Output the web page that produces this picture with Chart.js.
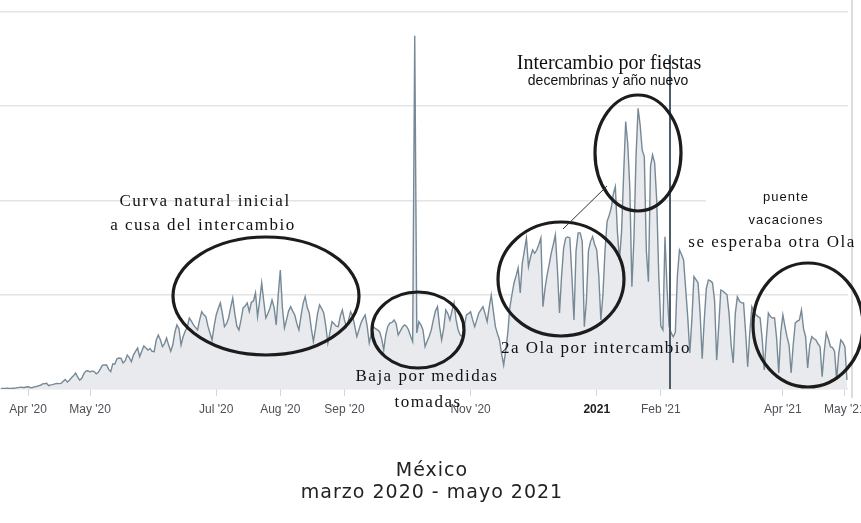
<!DOCTYPE html>
<html>
<head>
<meta charset="utf-8">
<script src="https://cdn.jsdelivr.net/npm/chart.js@4.4.1/dist/chart.umd.min.js"></script>
<style>
  html, body { margin: 0; padding: 0; background: #fff; }
</style>
</head>
<body>
<canvas id="myChart" width="861" height="523"></canvas>
<script>
// daily new cases, Mexico. day 0 = 1 Apr 2020, series starts 19 Mar 2020
const startDay = -13;

const casesMar20 = [46, 39, 48, 65, 51, 38, 65, 70, 110, 131, 145, 101, 163];
const casesApr20 = [178, 121, 99, 164, 202, 253, 296, 396, 425, 457, 260, 332, 345, 413, 445, 429, 448, 622, 764, 550,
  700, 900, 1043, 1270, 970, 700, 852, 1223, 1425, 1450];
const casesMay20 = [1350, 1439, 1383, 1200, 1329, 1609, 1900, 1906, 1913, 1562, 1380, 1997, 1992, 2409, 2460, 2437,
  2070, 2248, 2700, 2500, 2170, 2713, 3000, 3260, 2570, 3000, 3420, 3260, 3100, 3227, 3000];
const casesJun20 = [2970, 3891, 4300, 3912, 3370, 3600, 4060, 3494, 2999, 3500, 4500, 5100, 4790, 3500, 4160, 4599,
  4930, 5650, 5400, 5100, 4900, 4700, 5500, 6150, 5900, 5760, 5000, 4460, 3900, 5000];
const casesJul20 = [5890, 6400, 6850, 6000, 4960, 5200, 5650, 6500, 7240, 6000, 5000, 4700, 5500, 6450, 6600, 6850,
  6150, 6900, 7000, 7640, 5760, 7000, 8440, 7000, 5650, 6000, 6450, 7080, 6500, 5100, 7500];
const casesAug20 = [9470, 6500, 4860, 5500, 6200, 6550, 6200, 5890, 5200, 4700, 5800, 6800, 7350, 6500, 6050, 4800,
  3770, 4800, 6000, 6690, 6400, 6050, 5000, 3660, 4500, 5360, 5200, 5000, 4960, 5800, 6290];
const casesSep20 = [5500, 4960, 5500, 6150, 5800, 5000, 4160, 4700, 5250, 5600, 5890, 5000, 3660, 4400, 4960, 4800,
  4700, 4560, 4000, 3100, 4300, 5000, 5250, 5300, 5490, 5200, 4300, 4600, 4900, 5100];
const casesOct20 = [5000, 4700, 4200, 3770, 28115, 4460, 5360, 5100, 4700, 3370, 3800, 4200, 4700, 5500, 6200, 6550,
  5000, 3900, 4800, 6290, 6000, 5490, 6200, 6850, 5500, 4700, 4300, 4160, 5000, 5890, 6000];
const casesNov20 = [6150, 5500, 4960, 5500, 6050, 6300, 6550, 6000, 5360, 6500, 7480, 6200, 4960, 4400, 3900, 2800,
  1910, 3100, 4460, 6500, 7500, 8440, 9000, 9630, 7640, 10000, 11000, 12020, 9740, 10500];
const casesDec20 = [11060, 10800, 11060, 11500, 12020, 6550, 8000, 9070, 9900, 10820, 11500, 12260, 9500, 6050, 9000,
  11220, 12020, 12100, 12020, 9000, 5490, 11000, 12420, 12420, 11730, 4960, 7000, 11000, 11730, 12120, 11500];
const casesJan21 = [11060, 9000, 5490, 7500, 11000, 13320, 13800, 14400, 15500, 16100, 12500, 10270, 12500, 17000,
  21280, 19500, 16000, 8140, 12000, 18490, 22340, 21000, 19000, 18490, 11000, 8540, 17700, 18630, 18000, 15040, 9000];
const casesFeb21 = [5000, 4700, 12120, 8000, 5000, 4460, 4160, 4500, 9000, 11060, 10700, 10270, 8000, 5760, 2870,
  5500, 8940, 8700, 8440, 6000, 2400, 5500, 8000, 8680, 8600, 8440, 7000, 2300];
const casesMar21 = [5000, 7880, 7800, 7640, 7500, 6000, 3500, 2070, 6000, 7350, 7000, 6850, 6850, 4500, 1770, 4500,
  6550, 6200, 5900, 5760, 5650, 4000, 1510, 4000, 6050, 5760, 5650, 5650, 4000, 1270, 4500];
const casesApr21 = [5890, 5000, 4160, 3500, 1270, 3500, 5250, 5400, 5490, 6290, 4800, 4160, 1670, 3500, 4160, 4000,
  3900, 3600, 3370, 980, 3000, 4460, 4000, 3370, 3300, 3000, 720, 2800, 3900, 3700];
const casesMay21 = [3370, 720];

const tickDays = [0, 30, 91, 122, 153, 214, 275, 306, 365, 395];
const tickLabels = ["Apr '20", "May '20", "Jul '20", "Aug '20", "Sep '20", "Nov '20", "2021", "Feb '21", "Apr '21", "May '21"];
const yTicks = [0, 7500, 15000, 22500, 30000];

const allCases = [].concat(casesMar20, casesApr20, casesMay20, casesJun20, casesJul20, casesAug20, casesSep20,
  casesOct20, casesNov20, casesDec20, casesJan21, casesFeb21, casesMar21, casesApr21, casesMay21);
const points = allCases.map((v, i) => ({ x: startDay + i, y: v }));

// hand drawn notes on top of the chart
const notes = {
  id: 'notes',
  beforeDraw(chart) {
    // the title in the picture is letter spaced and sits a bit right of the plot centre
    const t = chart.titleBlock;
    if (t && !t._spaced) {
      const draw = t.draw;
      t.draw = function () {
        chart.ctx.save();
        chart.ctx.letterSpacing = '1px';
        chart.ctx.translate(8, 0);
        draw.apply(this, arguments);
        chart.ctx.restore();
      };
      t._spaced = true;
    }
  },
  afterDraw(chart) {
    const c = chart.ctx;
    c.save();

    // cursor line left by the original chart
    c.strokeStyle = '#4b5d6b';
    c.lineWidth = 2;
    c.beginPath();
    c.moveTo(670, 55);
    c.lineTo(670, 389);
    c.stroke();

    // right frame line
    c.strokeStyle = '#dcdcdc';
    c.lineWidth = 2;
    c.beginPath();
    c.moveTo(852, 0);
    c.lineTo(852, 398);
    c.stroke();

    // white patch behind "puente vacaciones"
    c.fillStyle = '#fff';
    c.fillRect(706, 182, 142, 50);

    // circles
    c.strokeStyle = '#1c1c1c';
    c.lineWidth = 3.2;
    [[266, 296, 93, 59], [418, 330, 46, 38], [561, 279, 63, 57], [638, 153, 43, 58], [808, 325, 55, 62]]
      .forEach(e => {
        c.beginPath();
        c.ellipse(e[0], e[1], e[2], e[3], 0, 0, Math.PI * 2);
        c.stroke();
      });

    // connector between the two wave circles
    c.strokeStyle = '#333';
    c.lineWidth = 1;
    c.beginPath();
    c.moveTo(563, 229);
    c.lineTo(607, 186);
    c.stroke();

    c.fillStyle = '#111';
    c.textAlign = 'center';
    c.textBaseline = 'middle';

    c.font = '17px "Liberation Serif"';
    c.letterSpacing = '1.5px';
    c.fillText('Curva natural inicial', 205, 202);
    c.fillText('a cusa del intercambio', 203, 226);
    c.fillText('Baja por medidas', 427, 377);
    c.fillText('tomadas', 428, 403);
    c.fillText('2a Ola por intercambio', 596, 349);
    c.fillText('se esperaba otra Ola', 772, 243);

    c.letterSpacing = '0px';
    c.font = '20px "Liberation Serif"';
    c.fillText('Intercambio por fiestas', 609, 64, 196);
    c.font = '14px "Liberation Sans"';
    c.fillText('decembrinas y año nuevo', 608, 81, 186);

    c.letterSpacing = '1px';
    c.font = '13px "Liberation Sans"';
    c.fillText('puente', 786, 197);
    c.fillText('vacaciones', 786, 220);

    c.restore();
  }
};

const ctx = document.getElementById('myChart');

new Chart(ctx, {
  type: 'line',
  data: {
    datasets: [{
      data: points,
      borderColor: '#768997',
      borderWidth: 1.4,
      backgroundColor: '#e8eaed',
      fill: 'origin',
      pointRadius: 0,
      tension: 0
    }]
  },
  options: {
    responsive: false,
    animation: false,
    devicePixelRatio: 1,
    layout: { padding: { left: 0, right: 13, top: 12, bottom: 0 }, autoPadding: false },
    scales: {
      x: {
        type: 'linear',
        min: -13.54,
        max: 396.5,
        afterBuildTicks: s => { s.ticks = tickDays.map(v => ({ value: v })); },
        afterFit: s => { s.height = 61; s.paddingLeft = 0; s.paddingRight = 0; },
        ticks: {
          autoSkip: false,
          maxRotation: 0,
          padding: 6,
          color: c => c.index === 6 ? '#202124' : '#4d5156',
          font: c => ({ family: 'Liberation Sans', size: 12, weight: c.index === 6 ? 'bold' : 'normal' }),
          callback: (v, i) => tickLabels[i]
        },
        grid: { drawOnChartArea: false, tickLength: 7, color: '#d5d5d5' },
        border: { display: false }
      },
      y: {
        min: 0,
        max: 30000,
        afterBuildTicks: s => { s.ticks = yTicks.map(v => ({ value: v })); },
        afterFit: s => { s.width = 0; },
        ticks: { display: false },
        grid: { color: '#e4e4e4', lineWidth: 1.5, drawTicks: false },
        border: { display: false }
      }
    },
    plugins: {
      legend: { display: false },
      tooltip: { enabled: false },
      title: {
        display: true,
        position: 'bottom',
        text: ['México', 'marzo 2020 - mayo 2021'],
        color: '#222',
        font: { family: 'DejaVu Sans', size: 19, weight: 'normal', lineHeight: 1.158 },
        padding: { top: 10, bottom: 19 }
      }
    }
  },
  plugins: [notes]
});
</script>
</body>
</html>
